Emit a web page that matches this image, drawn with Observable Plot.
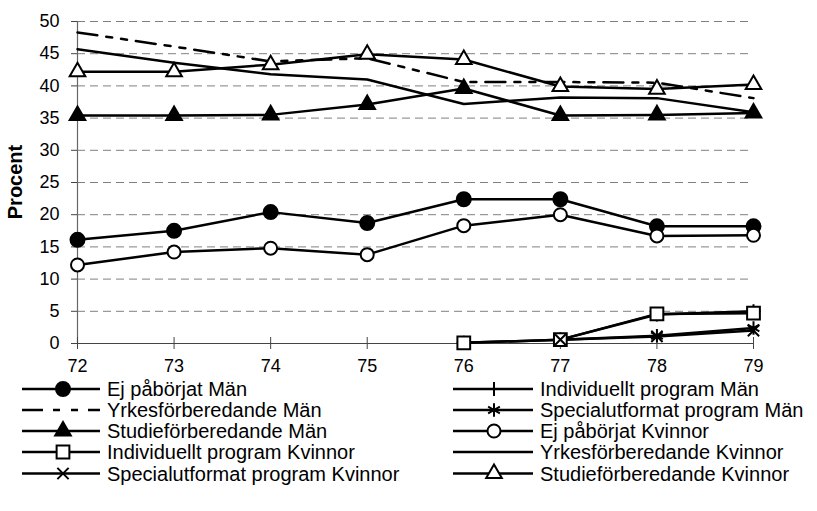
<!DOCTYPE html>
<html><head><meta charset="utf-8">
<script src="https://cdn.jsdelivr.net/npm/d3@7"></script>
<script src="https://cdn.jsdelivr.net/npm/@observablehq/plot@0.6"></script>
<style>
body{margin:0;background:#fff;font-family:"Liberation Sans",Arial,sans-serif}
#chart svg{display:block}
</style>
</head><body><div id="chart"></div><script>
const years = [72, 73, 74, 75, 76, 77, 78, 79];
const yTicks = [0, 5, 10, 15, 20, 25, 30, 35, 40, 45, 50];
const ejMan   = [16.1, 17.5, 20.4, 18.7, 22.4, 22.4, 18.2, 18.2];
const indMan  = [null, null, null, null, 0.1, 0.6, 4.5, 5.0];
const yrkMan  = [48.3, 46.1, 43.8, 44.3, 40.6, 40.6, 40.5, 38.1];
const specMan = [null, null, null, null, null, 0.6, 1.2, 2.4];
const studMan = [35.4, 35.4, 35.5, 37.1, 39.6, 35.4, 35.5, 35.8];
const ejKv    = [12.2, 14.2, 14.8, 13.8, 18.3, 20.0, 16.7, 16.8];
const indKv   = [null, null, null, null, 0.1, 0.6, 4.6, 4.7];
const yrkKv   = [45.7, 43.6, 41.8, 41.0, 37.2, 38.2, 38.1, 35.9];
const specKv  = [null, null, null, null, null, 0.6, 1.1, 2.0];
const studKv  = [42.2, 42.2, 43.3, 44.9, 44.1, 39.9, 39.5, 40.2];
const names = ["Ej påbörjat Män", "Individuellt program Män", "Yrkesförberedande Män",
  "Specialutformat program Män", "Studieförberedande Män", "Ej påbörjat Kvinnor",
  "Individuellt program Kvinnor", "Yrkesförberedande Kvinnor",
  "Specialutformat program Kvinnor", "Studieförberedande Kvinnor"];

// styles (not data)
const DASH = "20,9,6,9,6,9";
const styles = {
  "Ej påbörjat Män": {values: ejMan, symbol: "circle", r: 7, fill: "black"},
  "Individuellt program Män": {values: indMan, symbol: "plus", r: 4.6, fill: "none"},
  "Yrkesförberedande Män": {values: yrkMan, symbol: null, dash: DASH},
  "Specialutformat program Män": {values: specMan, symbol: "asterisk", r: 6.4, fill: "none"},
  "Studieförberedande Män": {values: studMan, symbol: "triangle", r: 5.8, fill: "black"},
  "Ej påbörjat Kvinnor": {values: ejKv, symbol: "circle", r: 6.5, fill: "white"},
  "Individuellt program Kvinnor": {values: indKv, symbol: "square", r: 7.2, fill: "white"},
  "Yrkesförberedande Kvinnor": {values: yrkKv, symbol: null},
  "Specialutformat program Kvinnor": {values: specKv, symbol: "times", r: 5.2, fill: "none"},
  "Studieförberedande Kvinnor": {values: studKv, symbol: "triangle", r: 5.8, fill: "white"}
};

const marks = [
  Plot.gridY(yTicks.filter(d => d > 0), {stroke: "#808080", strokeOpacity: 1, strokeDasharray: "8,5"}),
  Plot.ruleY([0], {stroke: "#444", strokeWidth: 1}),
  Plot.ruleX([years[0]], {stroke: "#666", strokeWidth: 1.2}),
  Plot.axisY({ticks: yTicks, tickSize: 6, tickPadding: 12, stroke: "#444", fontSize: 18, label: null, tickFormat: d => String(d)}),
  Plot.axisX({ticks: years, tickSize: 12, dy: -6, tickFormat: () => "", stroke: "#444", label: null}),
  Plot.axisX({ticks: years, tickSize: 0, tickPadding: 16, fontSize: 18, label: null, tickFormat: d => String(d)}),
];
for (const name of names) {
  const s = styles[name];
  const rows = years.map((x, i) => ({x, y: s.values[i]})).filter(d => d.y != null);
  marks.push(Plot.line(rows, {x: "x", y: "y", stroke: "black", strokeWidth: 2.5,
    strokeDasharray: s.dash || null, curve: "linear"}));
}
for (const name of names) {
  const s = styles[name];
  if (!s.symbol) continue;
  const rows = years.map((x, i) => ({x, y: s.values[i]})).filter(d => d.y != null);
  marks.push(Plot.dot(rows, {x: "x", y: "y", symbol: s.symbol, r: s.r,
    fill: s.fill, stroke: "black", strokeWidth: 2}));
}

const chart = Plot.plot({
  width: 817, height: 376,
  marginLeft: 77, marginRight: 64, marginTop: 21, marginBottom: 33,
  x: {domain: [72, 79], axis: null, label: null},
  y: {domain: [0, 50], axis: null, label: null},
  style: {fontFamily: "'Liberation Sans', Arial, sans-serif", fontSize: "18px", color: "black", background: "white", overflow: "visible"},
  marks
});
const holder = document.getElementById("chart");
holder.appendChild(chart);

// y axis label
d3.select(chart).append("text")
  .attr("transform", "translate(22,182) rotate(-90)")
  .attr("text-anchor", "middle")
  .attr("font-weight", "bold").attr("font-size", 20)
  .attr("fill", "black")
  .text("Procent");

// legend
const leg = d3.select(holder).append("svg").attr("width", 817).attr("height", 135)
  .style("font-family", "'Liberation Sans', Arial, sans-serif").style("display", "block");
const cols = [{x1: 22, x2: 100, mx: 63, tx: 107}, {x1: 453, x2: 533, mx: 494, tx: 540}];
const rowY = [13, 34, 55, 76, 97.5];
names.forEach((name, i) => {
  const s = styles[name];
  const c = cols[i % 2], y = rowY[Math.floor(i / 2)];
  leg.append("line").attr("x1", c.x1).attr("x2", c.x2).attr("y1", y).attr("y2", y)
    .attr("stroke", "black").attr("stroke-width", 2.5)
    .attr("stroke-dasharray", s.dash ? "21,10,7,11,7,10" : null);
  if (s.symbol) {
    const map = {circle: d3.symbolCircle, plus: d3.symbolPlus, asterisk: d3.symbolAsterisk,
      triangle: d3.symbolTriangle, square: d3.symbolSquare, times: d3.symbolTimes};
    leg.append("path").attr("transform", `translate(${c.mx},${y})`)
      .attr("d", d3.symbol(map[s.symbol], s.r * s.r * Math.PI)())
      .attr("fill", s.fill).attr("stroke", "black").attr("stroke-width", 2);
  }
  leg.append("text").attr("x", c.tx).attr("y", y).attr("dy", "0.36em")
    .attr("font-size", 20).attr("fill", "black").text(name);
});
</script></body></html>
